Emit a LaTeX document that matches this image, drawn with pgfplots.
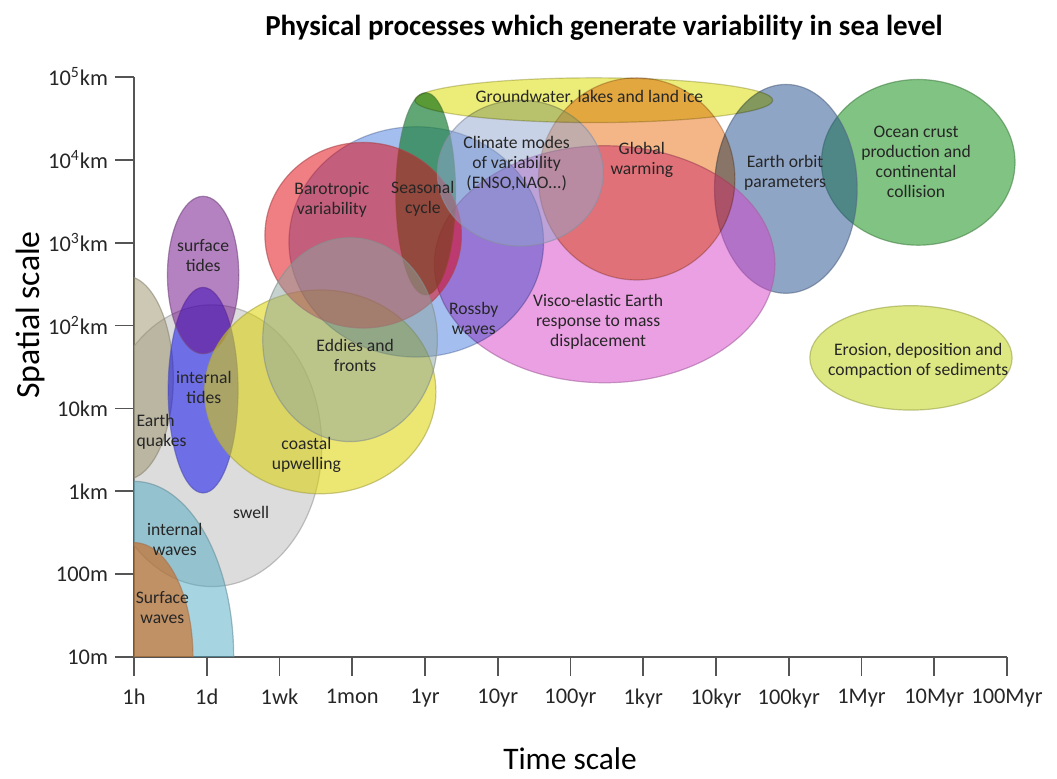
\documentclass[border=0pt]{standalone}
\usepackage{fontspec}
\setmainfont{Carlito}
\usepackage{pgfplots}
\pgfplotsset{compat=1.18}

\definecolor{swellc}{HTML}{B9B9B9}
\definecolor{quakec}{HTML}{9B9169}
\definecolor{iwavec}{HTML}{4DA9C1}
\definecolor{swavec}{HTML}{D26414}
\definecolor{itidec}{HTML}{1414F0}
\definecolor{stidec}{HTML}{690581}
\definecolor{coastc}{HTML}{DCD200}
\definecolor{oceanc}{HTML}{018705}
\definecolor{orbitc}{HTML}{1F4B8D}
\definecolor{viscoc}{HTML}{D741C9}
\definecolor{globalc}{HTML}{F5B687}
\definecolor{rossbyc}{HTML}{A5BEF0}
\definecolor{seasc}{HTML}{1E823C}
\definecolor{baroc}{HTML}{E1000A}
\definecolor{eddyc}{HTML}{8CA5A0}
\definecolor{climc}{HTML}{91A5CD}
\definecolor{groundc}{HTML}{ECEC78}
\definecolor{erosc}{HTML}{BDD105}
\definecolor{axisc}{HTML}{555555}

\tikzset{
  blob/.style={fill=#1, draw=#1!45!gray, draw opacity=0.6, line width=0.6pt},
  lab/.style={font=\fontsize{8.8}{10}\selectfont, text=black!85, align=center, inner sep=0pt},
}

\begin{document}
\begin{tikzpicture}
\useasboundingbox (-67pt,-61pt) rectangle (461.5pt,328.5pt);
\begin{axis}[
    at={(0,0)}, anchor=south west,
    scale only axis, width=436.5pt, height=290pt,
    xmin=0, xmax=12, ymin=0, ymax=7,
    axis lines=left,
    axis line style={-, draw=axisc, line width=0.8pt},
    clip=false,
    xtick={0,...,12},
    xticklabels={1h,1d,1wk,1mon,1yr,10yr,100yr,1kyr,10kyr,100kyr,1Myr,10Myr,100Myr},
    ytick={0,...,7},
    yticklabels={10m,100m,1km,10km,10\textsuperscript{2}km,10\textsuperscript{3}km,10\textsuperscript{4}km,10\textsuperscript{5}km},
    tick align=outside,
    major tick length=9.5pt,
    tick style={draw=axisc, line width=0.8pt},
    xticklabel style={font=\fontsize{11.2}{13}\selectfont, text=black!85, yshift=-3pt},
    yticklabel style={font=\fontsize{11.2}{13}\selectfont, text=black!85},
]
\begin{scope}
\clip (axis cs:0,0) rectangle (axis cs:12.4,7.4);
% short time scales
\draw[blob=swellc, fill opacity=0.5] (axis cs:1.07,2.55) ellipse [x radius=1.51, y radius=1.70];
\draw[blob=quakec, fill opacity=0.5] (axis cs:-0.12,3.37) ellipse [x radius=0.66, y radius=1.23];
\draw[blob=iwavec, fill opacity=0.5] (axis cs:0,0) ellipse [x radius=1.37, y radius=2.12];
\draw[blob=swavec, fill opacity=0.6] (axis cs:0,0) ellipse [x radius=0.81, y radius=1.38];
\draw[blob=itidec, fill opacity=0.55] (axis cs:0.95,3.22) ellipse [x radius=0.48, y radius=1.24];
\draw[blob=stidec, fill opacity=0.5] (axis cs:0.95,4.61) ellipse [x radius=0.49, y radius=0.95];
\draw[blob=coastc, fill opacity=0.55] (axis cs:2.56,3.20) ellipse [x radius=1.59, y radius=1.23];
% long time scales
\draw[blob=oceanc, fill opacity=0.5] (axis cs:10.78,5.97) ellipse [x radius=1.33, y radius=1.00];
\draw[blob=orbitc, fill opacity=0.5] (axis cs:8.96,5.65) ellipse [x radius=0.98, y radius=1.26];
\draw[blob=viscoc, fill opacity=0.5] (axis cs:6.47,4.74) ellipse [x radius=2.34, y radius=1.43];
\draw[blob=globalc, blend mode=multiply] (axis cs:6.91,5.77) ellipse [x radius=1.35, y radius=1.22];
% ocean dynamics
\draw[blob=rossbyc, blend mode=multiply] (axis cs:3.88,5.01) ellipse [x radius=1.75, y radius=1.39];
\draw[blob=seasc, fill opacity=0.7] (axis cs:4.01,5.59) ellipse [x radius=0.41, y radius=1.22];
\draw[blob=baroc, fill opacity=0.5] (axis cs:3.15,5.09) ellipse [x radius=1.35, y radius=1.12];
\draw[blob=eddyc, fill opacity=0.5] (axis cs:2.97,3.83) ellipse [x radius=1.20, y radius=1.23];
\draw[blob=climc, fill opacity=0.5] (axis cs:5.31,5.84) ellipse [x radius=1.14, y radius=0.88];
\draw[blob=groundc, blend mode=multiply] (axis cs:6.32,6.72) ellipse [x radius=2.46, y radius=0.27];
\draw[blob=erosc, fill opacity=0.5] (axis cs:10.68,3.61) ellipse [x radius=1.39, y radius=0.63];
\end{scope}

\node[lab] at (axis cs:6.26,6.75) {Groundwater, lakes and land ice};
\node[lab] at (axis cs:5.26,5.96) {Climate modes\\of variability\\(ENSO,NAO...)};
\node[lab] at (axis cs:6.98,6.00) {Global\\warming};
\node[lab] at (axis cs:8.95,5.84) {Earth orbit\\parameters};
\node[lab] at (axis cs:10.75,5.97) {Ocean crust\\production and\\continental\\collision};
\node[lab] at (axis cs:2.72,5.52) {Barotropic\\variability};
\node[lab] at (axis cs:3.97,5.53) {Seasonal\\cycle};
\node[lab] at (axis cs:0.95,4.84) {surface\\tides};
\node[lab] at (axis cs:4.67,4.09) {Rossby\\waves};
\node[lab] at (axis cs:6.38,4.04) {Visco-elastic Earth\\response to mass\\displacement};
\node[lab] at (axis cs:10.78,3.57) {Erosion, deposition and\\compaction of sediments};
\node[lab] at (axis cs:3.04,3.64) {Eddies and\\fronts};
\node[lab] at (axis cs:0.96,3.25) {internal\\tides};
\node[lab, anchor=west, align=left] at (axis cs:0.03,2.72) {Earth\\quakes};
\node[lab] at (axis cs:2.37,2.44) {coastal\\upwelling};
\node[lab] at (axis cs:1.61,1.75) {swell};
\node[lab] at (axis cs:0.56,1.42) {internal\\waves};
\node[lab] at (axis cs:0.39,0.60) {Surface\\waves};
\end{axis}
\node[font=\bfseries\fontsize{14.5}{17}\selectfont] at (235pt,314.5pt) {Physical processes which generate variability in sea level};
\node[font=\fontsize{15.7}{18}\selectfont] at (218pt,-51pt) {Time scale};
\node[font=\fontsize{16.9}{19}\selectfont, rotate=90] at (-52pt,171pt) {Spatial scale};
\end{tikzpicture}
\end{document}
